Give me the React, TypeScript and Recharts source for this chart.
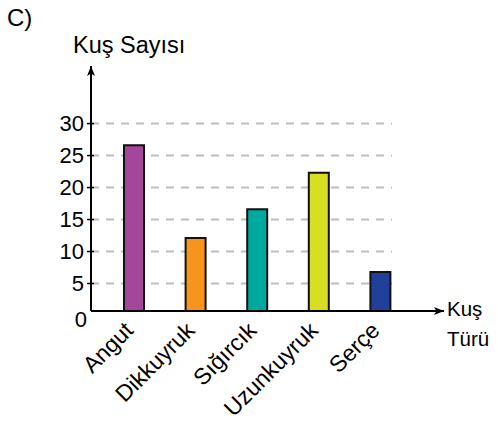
import React from 'react';
import { BarChart, Bar, XAxis, YAxis, CartesianGrid, Cell } from 'recharts';

const categories = ['Angut', 'Dikkuyruk', 'Sığırcık', 'Uzunkuyruk', 'Serçe'];
const counts = [26.6, 12.1, 16.6, 22.3, 6.8];
const barColors = ['#a2479a', '#f7941d', '#00a99d', '#d7df23', '#21409a'];
const yTickValues = [0, 5, 10, 15, 20, 25, 30];
const gridValues = [5, 10, 15, 20, 25, 30];
const chartTitle = 'C)';
const yAxisTitle = 'Kuş Sayısı';
const xAxisTitle = ['Kuş', 'Türü'];

const data = categories.map((name, i) => ({ name, count: counts[i] }));
const FONT = '"Liberation Sans", Arial, Helvetica, sans-serif';

function YTick(props: any) {
  const { x, y, payload } = props;
  if (payload.value === 0) {
    return (
      <text x={x - 4} y={y + 4} dy="0.355em" textAnchor="end" fontSize={22} fontFamily={FONT} fill="#000">
        0
      </text>
    );
  }
  return (
    <g>
      <line x1={x - 4} x2={x + 3} y1={y} y2={y} stroke="#000" strokeWidth={1.5} />
      <text x={x - 7} y={y} dy="0.36em" textAnchor="end" fontSize={22} fontFamily={FONT} fill="#000">
        {payload.value}
      </text>
    </g>
  );
}

function XTick(props: any) {
  const { x, y, payload } = props;
  const ax = x - 8;
  const ay = y + 12;
  return (
    <text
      x={ax}
      y={ay}
      dy={12.5}
      textAnchor="end"
      transform={`rotate(-45, ${ax}, ${ay})`}
      fontSize={23}
      fontFamily={FONT}
      fill="#000"
    >
      {payload.value}
    </text>
  );
}

function YTitle(props: any) {
  const { viewBox } = props;
  const ax = viewBox.x + viewBox.width;
  return (
    <text x={ax - 18} y={viewBox.y - 13} fontSize={23.5} fontFamily={FONT} fill="#000">
      {yAxisTitle}
    </text>
  );
}

function XTitle(props: any) {
  const { viewBox } = props;
  const x = viewBox.x + viewBox.width + 3;
  return (
    <text fontSize={20.5} fontFamily={FONT} fill="#000">
      <tspan x={x} y={viewBox.y + 5}>{xAxisTitle[0]}</tspan>
      <tspan x={x} y={viewBox.y + 35}>{xAxisTitle[1]}</tspan>
    </text>
  );
}

export default function App() {
  return (
    <div style={{ position: 'absolute', left: 0, top: 0, width: 498, height: 425, background: '#fff' }}>
      <svg width={0} height={0} style={{ position: 'absolute' }}>
        <defs>
          <marker
            id="axisArrow"
            viewBox="0 0 10 8"
            refX={10}
            refY={4}
            markerWidth={11}
            markerHeight={8}
            markerUnits="userSpaceOnUse"
            orient="auto-start-reverse"
          >
            <path d="M0,0 L10,4 L0,8 L2.5,4 z" fill="#000" />
          </marker>
        </defs>
      </svg>
      <div
        style={{
          position: 'absolute',
          left: 7,
          top: 3,
          fontSize: 24,
          fontFamily: FONT,
          color: '#000',
          lineHeight: '30px',
        }}
      >
        {chartTitle}
      </div>
      <BarChart
        width={498}
        height={425}
        data={data}
        margin={{ top: 66, right: 54, bottom: 113, left: 90 }}
        style={{ position: 'absolute', left: 0, top: 0 }}
      >
        <CartesianGrid
          vertical={false}
          horizontalValues={gridValues}
          x={91}
          width={301}
          stroke="#bdbdbd"
          strokeWidth={2}
          strokeDasharray="8 7"
        />
        <XAxis
          dataKey="name"
          height={1}
          interval={0}
          tickSize={0}
          tickMargin={0}
          tickLine={false}
          padding={{ left: 12, right: 33 }}
          axisLine={{ stroke: '#000', strokeWidth: 2, markerEnd: 'url(#axisArrow)' }}
          tick={<XTick />}
          label={<XTitle />}
        />
        <YAxis
          type="number"
          width={1}
          domain={[0.7, 39]}
          ticks={yTickValues}
          allowDataOverflow
          tickSize={0}
          tickMargin={0}
          tickLine={false}
          interval={0}
          axisLine={{ stroke: '#000', strokeWidth: 2, markerStart: 'url(#axisArrow)' }}
          tick={<YTick />}
          label={<YTitle />}
        />
        <Bar dataKey="count" barSize={20} stroke="#111" strokeWidth={2} isAnimationActive={false}>
          {data.map((d, i) => (
            <Cell key={d.name} fill={barColors[i]} />
          ))}
        </Bar>
      </BarChart>
    </div>
  );
}
